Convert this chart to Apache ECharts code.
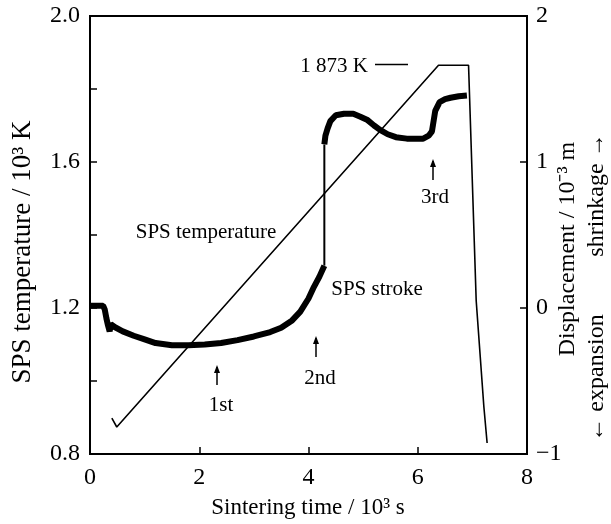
<!DOCTYPE html>
<html><head><meta charset="utf-8">
<script src="https://cdn.jsdelivr.net/npm/echarts@6/dist/echarts.min.js"></script>
<style>html,body{margin:0;padding:0;background:#fff}#c{width:611px;height:524px}</style>
</head><body><div id="c"></div>
<script>
// ---- data ----
const xTicks = [0, 2, 4, 6, 8];
const leftTickLabels = ['0.8', '1.2', '1.6', '2.0'];
const rightTickLabels = ['−1', '0', '1', '2'];
// SPS temperature (10^3 K) vs sintering time (10^3 s)
const tempX = [0.40, 0.49, 6.38, 6.93, 7.07, 7.21, 7.27];
const tempY = [0.898, 0.874, 1.865, 1.865, 1.22, 0.93, 0.83];
// SPS stroke displacement (10^-3 m) before the jump
const strokeLowX = [0, 0.1, 0.24, 0.27, 0.30, 0.33, 0.36, 0.38, 0.45, 0.6, 0.8, 1.0, 1.2, 1.5, 1.8, 2.1, 2.4, 2.7, 3.0, 3.3, 3.5, 3.7, 3.85, 4.0, 4.1, 4.2, 4.29];
const strokeLowY = [0.015, 0.015, 0.015, -0.01, -0.07, -0.12, -0.16, -0.11, -0.13, -0.16, -0.19, -0.215, -0.24, -0.255, -0.255, -0.25, -0.24, -0.22, -0.195, -0.165, -0.135, -0.085, -0.025, 0.065, 0.145, 0.215, 0.29];
// after the jump
const strokeHighX = [4.29, 4.31, 4.35, 4.4, 4.5, 4.65, 4.82, 4.95, 5.07, 5.2, 5.31, 5.45, 5.6, 5.8, 6.0, 6.1, 6.2, 6.26, 6.29, 6.32, 6.4, 6.5, 6.6, 6.75, 6.9];
const strokeHighY = [1.12, 1.18, 1.23, 1.28, 1.32, 1.33, 1.33, 1.31, 1.29, 1.25, 1.22, 1.19, 1.17, 1.16, 1.16, 1.16, 1.18, 1.21, 1.28, 1.35, 1.41, 1.43, 1.44, 1.45, 1.455];

const zip = (a, b) => a.map((v, i) => [v, b[i]]);
const FONT = "'Liberation Serif','Times New Roman',serif";
const chart = echarts.init(document.getElementById('c'));

const tempData = zip(tempX, tempY);
const lowData = zip(strokeLowX, strokeLowY);
const highData = zip(strokeHighX, strokeHighY);
const jumpData = [lowData[lowData.length - 1], highData[0]];

function arrow(x, y1, y2) {
  return [
    {type: 'line', shape: {x1: x, y1: y1 + 2, x2: x, y2: y2}, style: {stroke: '#000', lineWidth: 1.5}},
    {type: 'polygon', shape: {points: [[x, y1], [x - 3, y1 + 8], [x + 3, y1 + 8]]}, style: {fill: '#000'}}
  ];
}
function txt(s, x, y, size, rot) {
  return {type: 'text', x: x, y: y, rotation: rot || 0,
    style: {text: s, font: size + 'px ' + FONT, fill: '#000', textAlign: 'center', textVerticalAlign: 'middle'}};
}

chart.setOption({
  animation: false,
  backgroundColor: '#fff',
  grid: {left: 90, right: 84, top: 16, bottom: 70, show: true, borderColor: '#000', borderWidth: 2, backgroundColor: 'transparent'},
  xAxis: {
    type: 'value', min: 0, max: 8, interval: 2,
    axisLine: {onZero: false, lineStyle: {color: '#000', width: 2}},
    axisTick: {inside: true, length: 7, lineStyle: {color: '#000', width: 1.5}},
    splitLine: {show: false},
    axisLabel: {color: '#000', fontFamily: FONT, fontSize: 24, margin: 12,
      formatter: v => xTicks.indexOf(v) >= 0 ? String(v) : ''}
  },
  yAxis: [{
    type: 'value', min: 0.8, max: 2.0, interval: 0.2, position: 'left',
    axisLine: {show: true, onZero: false, lineStyle: {color: '#000', width: 2}},
    axisTick: {show: true, inside: true, length: 7, lineStyle: {color: '#000', width: 1.5}},
    splitLine: {show: false},
    axisLabel: {color: '#000', fontFamily: FONT, fontSize: 24, margin: 10,
      formatter: v => { const s = v.toFixed(1); return leftTickLabels.indexOf(s) >= 0 ? s : ''; }}
  }, {
    type: 'value', min: -1, max: 2, interval: 1, position: 'right',
    axisLine: {show: true, onZero: false, lineStyle: {color: '#000', width: 2}},
    axisTick: {show: true, inside: true, length: 7, lineStyle: {color: '#000', width: 1.5}},
    splitLine: {show: false},
    axisLabel: {color: '#000', fontFamily: FONT, fontSize: 24, margin: 9,
      formatter: v => rightTickLabels[Math.round(v) + 1]}
  }],
  series: [
    {name: 'SPS temperature', type: 'line', yAxisIndex: 0, data: tempData, showSymbol: false,
      lineStyle: {color: '#000', width: 1.6}},
    {name: 'SPS stroke low', type: 'line', yAxisIndex: 1, data: lowData, showSymbol: false,
      lineStyle: {color: '#000', width: 6}},
    {name: 'SPS stroke jump', type: 'line', yAxisIndex: 1, data: jumpData, showSymbol: false,
      lineStyle: {color: '#000', width: 2}},
    {name: 'SPS stroke high', type: 'line', yAxisIndex: 1, data: highData, showSymbol: false,
      lineStyle: {color: '#000', width: 6}}
  ],
  graphic: [
    txt('SPS temperature / 10³ K', 23, 252, 27, Math.PI / 2),
    txt('Displacement / 10⁻³ m', 568, 249, 24, Math.PI / 2),
    txt('← expansion', 597, 378, 24, Math.PI / 2),
    txt('shrinkage →', 597, 195, 24, Math.PI / 2),
    txt('Sintering time / 10³ s', 308, 508, 23),
    txt('1 873 K', 334, 66, 21),
    {type: 'line', shape: {x1: 375, y1: 64.5, x2: 408, y2: 64.5}, style: {stroke: '#000', lineWidth: 1.5}},
    txt('SPS temperature', 206, 232, 21),
    txt('SPS stroke', 377, 289, 21),
    txt('3rd', 435, 197, 21),
    txt('2nd', 320, 378, 21),
    txt('1st', 221, 405, 21),
    ...arrow(433, 159, 180),
    ...arrow(316, 336, 357),
    ...arrow(217, 365, 385)
  ]
});
</script></body></html>
